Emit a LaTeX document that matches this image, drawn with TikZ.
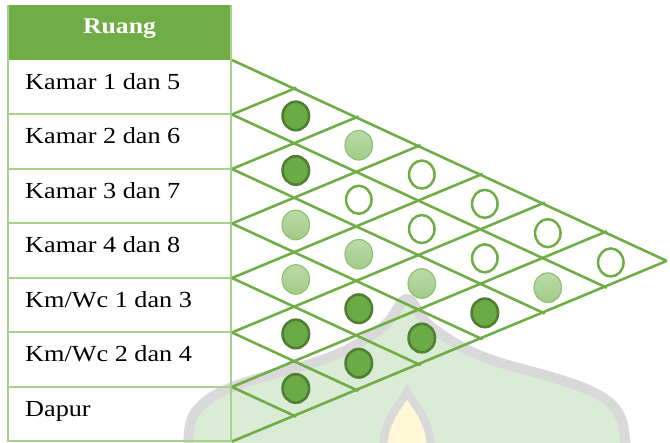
\documentclass[tikz,border=0pt]{standalone}
\usepackage{fontspec}
\usetikzlibrary{calc,shapes.geometric}
\newfontfamily\tabfont{Liberation Serif}[FakeStretch=1.14]
\definecolor{accent}{HTML}{70AD47}
\definecolor{rulegreen}{HTML}{A9D18E}
\definecolor{darkfill}{HTML}{6AAB45}
\definecolor{darkrim}{HTML}{507E32}
\definecolor{lighttop}{HTML}{BADAA8}
\definecolor{lightbot}{HTML}{A2CB88}
\definecolor{lightrim}{HTML}{8EC171}
\definecolor{markgray}{HTML}{D9D9D9}
\definecolor{markgreen}{HTML}{DAEBD6}
\definecolor{markflame}{HTML}{FFF7D6}
\tikzset{
  tablerule/.style={rulegreen, line width=2pt},
  lattice/.style={accent, line width=2.6pt},
  tick/.style={lattice, shorten >=-2.5pt},
  rdark/.style={ellipse, inner sep=0pt, minimum width=26.5pt, minimum height=28.5pt,
    fill=darkfill, draw=darkrim, line width=2.6pt},
  rlight/.style={ellipse, inner sep=0pt, minimum width=27.5pt, minimum height=29.5pt,
    top color=lighttop, bottom color=lightbot, draw=lightrim, line width=1.2pt},
  rnone/.style={ellipse, inner sep=0pt, minimum width=25.5pt, minimum height=28pt,
    fill=white, draw=accent, line width=2.5pt},
  rowlabel/.style={anchor=base west, inner sep=0pt, font=\tabfont\fontsize{23}{27}\selectfont},
  headlabel/.style={anchor=base, inner sep=0pt, text=white, font=\tabfont\bfseries\fontsize{22.5}{27}\selectfont}
}
\begin{document}
\begin{tikzpicture}[x=1pt,y=-1pt]
\useasboundingbox (0,0) rectangle (670,443);

% faint dome-and-flame emblem in the background
\draw[markgray, line width=10pt, fill=markgreen]
  plot[smooth, tension=0.6] coordinates {(188,452) (191,421) (205,402) (230,388) (266,376)
    (316,362) (352,347) (386,324) (407,299) (428,324) (462,347) (498,362) (548,376)
    (584,388) (609,402) (622,421) (626,452)} -- cycle;
\draw[markgray, line width=8pt, fill=markflame]
  (407,392) .. controls (398,408) and (383,420) .. (383,452)
  -- (431,452) .. controls (431,420) and (416,408) .. (407,392) -- cycle;

% table of rooms
\fill[accent] (8,5) rectangle (230.5,60);
\draw[tablerule] (8,5) -- (8,441.5) -- (230.5,441.5) -- (230.5,5);
\foreach \k in {1,...,6}
  \draw[tablerule] (8,{60+54.5*\k}) -- (230.5,{60+54.5*\k});

\node[headlabel] (head) at (119.5,33.3) {Ruang};
\foreach \k/\t in {1/{Kamar 1 dan 5}, 2/{Kamar 2 dan 6}, 3/{Kamar 3 dan 7}, 4/{Kamar 4 dan 8},
                   5/{Km/Wc 1 dan 3}, 6/{Km/Wc 2 dan 4}, 7/{Dapur}}
  \node[rowlabel] (row\k) at (25,{60+54.5*(\k-1)+29.3}) {\t};

% lattice points: left side, top edge, bottom edge
\foreach \k in {0,...,7}
  \coordinate (L\k) at (232,{60+54.5*\k});
\foreach \k in {0,...,7} {
  \coordinate (T\k) at ($(L0)+\k*(62.1,28.7)$);
  \coordinate (B\k) at ($(L7)+\k*(62.1,-25.8)$);
}

% relationship lattice
\draw[lattice] (L0) -- (T7);
\draw[lattice] (L7) -- (B7);
\foreach \k [evaluate=\k as \m using int(7-\k)] in {1,...,6} {
  \draw[tick] (L\k) -- (B\m);
  \draw[tick] (L\k) -- (T\k);
}

% relationship marks
\foreach \a/\b/\s in {1/2/rdark, 2/3/rdark, 3/4/rlight, 4/5/rlight, 5/6/rdark, 6/7/rdark,
                      1/3/rlight, 2/4/rnone, 3/5/rlight, 4/6/rdark, 5/7/rdark,
                      1/4/rnone, 2/5/rnone, 3/6/rlight, 4/7/rdark,
                      1/5/rnone, 2/6/rnone, 3/7/rdark,
                      1/6/rnone, 2/7/rlight,
                      1/7/rnone}
  \node[\s] (c\a\b) at ({295.8+63*(\b-\a-1)}, {60+(\a-0.5)*54.5+(\b-\a)*28.7+0.6*(\b-\a-1)}) {};
\end{tikzpicture}
\end{document}
